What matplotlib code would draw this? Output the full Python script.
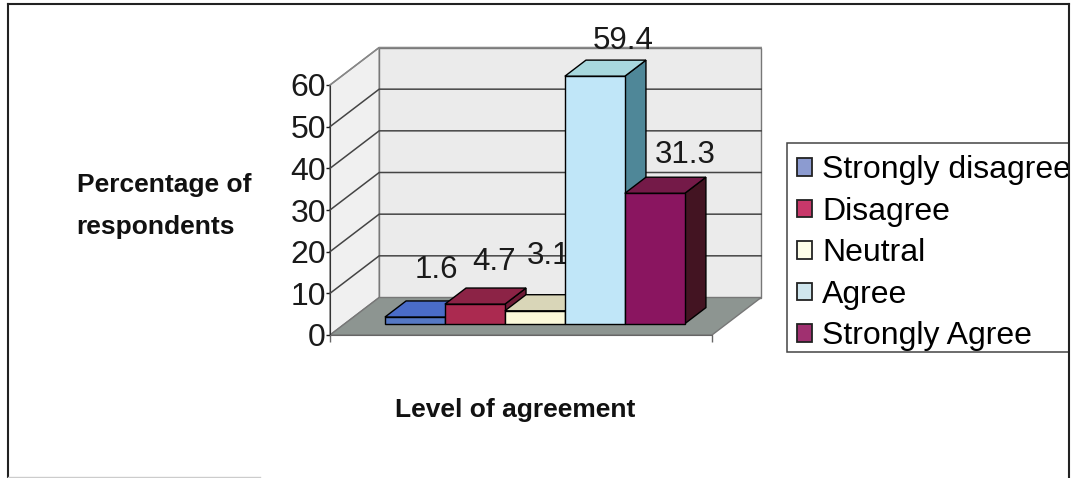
import matplotlib
matplotlib.use('Agg')
import matplotlib.pyplot as plt
from matplotlib.lines import Line2D
from matplotlib.patches import Patch, Rectangle

plt.rcParams['font.family'] = ['Liberation Sans', 'DejaVu Sans']

categories = ['Strongly disagree', 'Disagree', 'Neutral', 'Agree', 'Strongly Agree']
percentages = [1.6, 4.7, 3.1, 59.4, 31.3]
y_ticks = [0, 10, 20, 30, 40, 50, 60]

front_colors = ['#5578c4', '#ab2a50', '#fbf8d9', '#c0e6f8', '#8a1560']
top_colors = ['#4a6cc8', '#8c2346', '#d9d6b8', '#a8d8de', '#741a48']
side_colors = ['#3a5590', '#6e1a36', '#a8a690', '#4f8798', '#431422']
legend_colors = ['#8c9bd0', '#c8386a', '#fdfde8', '#cfe6ee', '#a03070']

W, H = 1075, 478
DEPTH_X = 0.82   # full floor depth, in x units
DEPTH_Y = 9.0    # full floor depth, in y units
XMIN, XMAX = -1.17, 5.2
BAR_NEAR, BAR_FAR = 0.30, 0.73


def fx(px):
    return px / W


def fy(px):
    return 1 - px / H


def oblique(x, value, depth):
    return x + depth * DEPTH_X, value + depth * DEPTH_Y


def face(points, color, zorder, edge='black', lw=1.0):
    xs = [oblique(*p)[0] for p in points]
    ys = [oblique(*p)[1] for p in points]
    ax.fill(xs, ys, facecolor=color, edgecolor=edge, linewidth=lw,
            zorder=zorder, clip_on=False)


fig = plt.figure(figsize=(W / 100, H / 100), dpi=100)
ax = fig.add_axes([fx(330), fy(335), 382 / W, 250 / H])
ax.set_xlim(XMIN, XMAX)
ax.set_ylim(0, 60)
ax.patch.set_visible(False)

# walls and floor
top = y_ticks[-1]
face([(XMIN, 0, 1), (XMAX, 0, 1), (XMAX, top, 1), (XMIN, top, 1)], '#ebebeb', 1, '#777777')
face([(XMIN, 0, 0), (XMIN, 0, 1), (XMIN, top, 1), (XMIN, top, 0)], '#f0f0f0', 1, '#777777')
face([(XMIN, 0, 0), (XMAX, 0, 0), (XMAX, 0, 1), (XMIN, 0, 1)], '#8d9591', 2, '#777777')

for v in y_ticks[1:]:
    xs, ys = zip(*[oblique(XMIN, v, 0), oblique(XMIN, v, 1), oblique(XMAX, v, 1)])
    ax.plot(xs, ys, color='#444444' if v < top else '#888888', lw=1.1, zorder=3, clip_on=False)

# bars, left to right so nearer ones paint over
for i, value in enumerate(percentages):
    z = 10 + i * 2
    l, r = i - 0.5, i + 0.5
    face([(r, 0, BAR_NEAR), (r, 0, BAR_FAR), (r, value, BAR_FAR), (r, value, BAR_NEAR)], side_colors[i], z)
    face([(l, value, BAR_NEAR), (r, value, BAR_NEAR), (r, value, BAR_FAR), (l, value, BAR_FAR)], top_colors[i], z)
    face([(l, 0, BAR_NEAR), (r, 0, BAR_NEAR), (r, value, BAR_NEAR), (l, value, BAR_NEAR)], front_colors[i], z)

# value labels sit at hand-picked offsets from the top of each bar
label_offsets = [(21, 47), (19, 42), (14, 55), (28, 35), (30, 38)]
for i, value in enumerate(percentages):
    ax.annotate(str(value), oblique(i, value, BAR_NEAR), xytext=label_offsets[i],
                textcoords='offset pixels', ha='center', va='center', fontsize=22.5,
                color='#1a1a1a', zorder=10 + i * 2 + 1, annotation_clip=False)

ax.set_xticks([XMIN, XMAX], ['', ''])
ax.set_yticks(y_ticks)
ax.tick_params(axis='y', labelsize=23, length=3, width=1, pad=0, colors='#1a1a1a')
ax.tick_params(axis='x', length=5, width=1, color='#666666')
for name in ['top', 'right']:
    ax.spines[name].set_visible(False)
ax.spines['left'].set_color('#333333')
ax.spines['bottom'].set_color('#666666')

fig.text(fx(164), fy(185), 'Percentage of', ha='center', va='center', fontsize=19, fontweight='bold', color='#111111')
fig.text(fx(156), fy(227), 'respondents', ha='center', va='center', fontsize=19, fontweight='bold', color='#111111')
fig.text(fx(515), fy(410), 'Level of agreement', ha='center', va='center', fontsize=19, fontweight='bold', color='#111111')

# legend box runs into the right edge of the frame
fig.add_artist(Rectangle((fx(787), fy(352)), 282 / W, 209 / H, facecolor='white',
                         edgecolor='#444444', linewidth=1.1, transform=fig.transFigure, zorder=5))
handles = [Patch(facecolor=c, edgecolor='#222222', linewidth=1.3) for c in legend_colors]
leg = fig.legend(handles, categories, loc='upper left', bbox_to_anchor=(fx(791), fy(149)),
                 frameon=False, fontsize=23, handlelength=0.47, handleheight=0.47,
                 handletextpad=0.3, labelspacing=0.36, borderpad=0.2, borderaxespad=0)
leg.set_zorder(6)

# page frame
frame = [([7.5, 7.5], [478, 4]), ([7.5, 1069], [4, 4]), ([1069, 1069], [4, 478])]
for xs, ys in frame:
    fig.add_artist(Line2D([fx(x) for x in xs], [fy(y) for y in ys], color='#222222', lw=1.5, zorder=7))
fig.add_artist(Line2D([fx(7.5), fx(260)], [fy(477), fy(477)], color='#cccccc', lw=1, zorder=7))

fig.savefig('out.png', dpi=100)
